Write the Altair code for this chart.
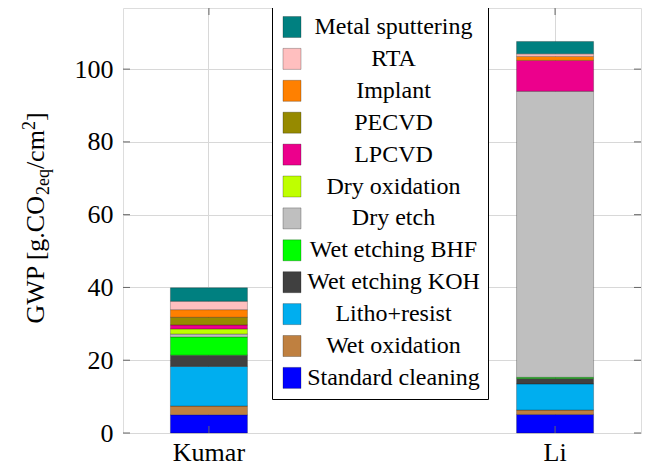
import altair as alt
import pandas as pd

F = "Liberation Serif"

studies = ["Kumar", "Li"]
processes = ["Standard cleaning", "Wet oxidation", "Litho+resist", "Wet etching KOH",
             "Wet etching BHF", "Dry etch", "Dry oxidation", "LPCVD", "PECVD",
             "Implant", "RTA", "Metal sputtering"]
kumar = [5.0, 2.4, 10.9, 3.1, 5.0, 0.8, 1.4, 1.1, 2.1, 2.1, 2.3, 3.7]
li = [5.1, 1.2, 7.2, 1.5, 0.3, 78.6, 0.0, 8.5, 0.0, 1.1, 0.7, 3.4]
colors = ["#0000ff", "#bf8040", "#00aeef", "#404040", "#00ff00", "#bfbfbf",
          "#bfff00", "#ec008c", "#968a00", "#ff8000", "#ffbfbf", "#008080"]
y_ticks = [0, 20, 40, 60, 80, 100]

rows = []
for s, vals in zip(studies, [kumar, li]):
    for i, (p, v) in enumerate(zip(processes, vals)):
        rows.append({"Study": s, "Process": p, "GWP": v, "idx": i})
df = pd.DataFrame(rows)

W, H = 518, 425
xscale = alt.Scale(domain=studies, paddingInner=0.7775, paddingOuter=0.137)
yscale = alt.Scale(domain=[0, 116.8], nice=False, zero=True)
GRID = "#d8d8d8"

bars = alt.Chart(df).transform_filter("datum.GWP > 0").mark_bar(
    stroke="rgba(0,0,0,0.25)", strokeWidth=1
).encode(
    x=alt.X("Study:N", scale=xscale,
            axis=alt.Axis(title=None, labelAngle=0, labelFontSize=26, labelFont=F,
                          labelColor="black", ticks=False, tickSize=0, labelPadding=6,
                          domain=False, grid=True, gridColor=GRID, gridWidth=1)),
    y=alt.Y("GWP:Q", stack="zero", scale=yscale,
            axis=alt.Axis(values=y_ticks, title=None, labelFontSize=26, labelFont=F,
                          labelColor="black", ticks=False, tickSize=0, labelPadding=10,
                          domain=False, grid=True, gridColor=GRID, gridWidth=1)),
    color=alt.Color("Process:N",
                    scale=alt.Scale(domain=processes[::-1], range=colors[::-1]),
                    legend=alt.Legend(title=None, orient="none", legendX=149, legendY=-1,
                                      symbolType="M-0.86,-1H0.86V1H-0.86Z",
                                      symbolSize=441, labelFontSize=24, labelFont=F,
                                      labelColor="black", labelAlign="center",
                                      labelOffset=89.5, rowPadding=5.9, padding=8,
                                      fillColor="white", strokeColor="black",
                                      symbolStrokeColor="rgba(0,0,0,0.25)",
                                      symbolStrokeWidth=1, labelLimit=400,
                                      symbolOpacity=1)),
    order=alt.Order("idx:Q", sort="ascending"),
)

yt = pd.DataFrame({"GWP": y_ticks})
xt = pd.DataFrame({"Study": studies})
TICK = "#666666"

left_t = alt.Chart(yt).mark_rule(color=TICK, strokeWidth=1).encode(
    y=alt.Y("GWP:Q", scale=yscale), x=alt.value(0), x2=alt.value(7))
right_t = alt.Chart(yt).mark_rule(color=TICK, strokeWidth=1).encode(
    y=alt.Y("GWP:Q", scale=yscale), x=alt.value(W - 7), x2=alt.value(W))
bot_t = alt.Chart(xt).mark_rule(color=TICK, strokeWidth=1).encode(
    x=alt.X("Study:N", scale=xscale), y=alt.value(H - 7), y2=alt.value(H))
top_t = alt.Chart(xt).mark_rule(color=TICK, strokeWidth=1).encode(
    x=alt.X("Study:N", scale=xscale), y=alt.value(0), y2=alt.value(7))


def piece(t, x, y, size):
    return alt.Chart(alt.Data(values=[{"k": 0}])).mark_text(
        text=t, angle=270, align="left", baseline="alphabetic",
        font=F, fontSize=size, color="black"
    ).encode(x=alt.value(x), y=alt.value(y))


BX = -79
title_layers = [
    piece("GWP [g.CO", BX, 315.6, 26),
    piece("2eq", BX + 5, 187.1, 18),
    piece("/cm", BX, 161.1, 26),
    piece("2", BX - 9, 122.1, 18),
    piece("]", BX, 113.1, 26),
]

chart = alt.layer(bars, left_t, right_t, bot_t, top_t, *title_layers).properties(
    width=W, height=H,
    autosize=alt.AutoSizeParams(type="none"),
    padding={"left": 115, "top": 0, "right": 6, "bottom": 36},
).configure_view(stroke="black", strokeWidth=1).configure(background="white")

chart.save("out.html", embed_options={"renderer": "svg", "actions": False})
